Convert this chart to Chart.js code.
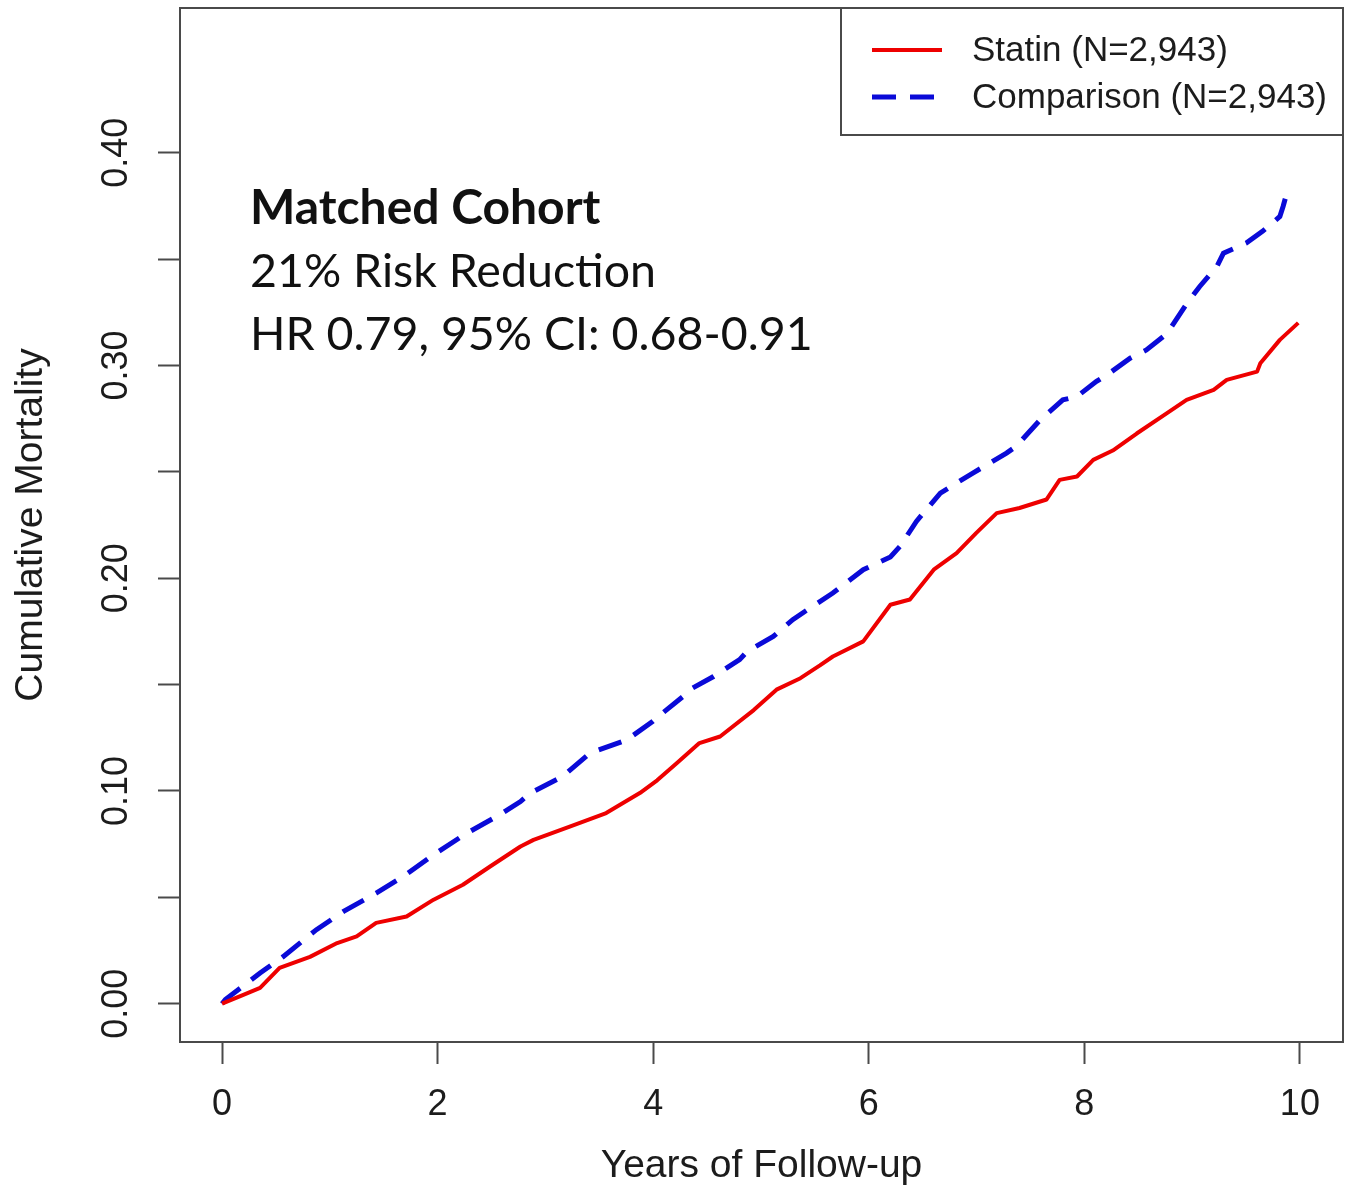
<!DOCTYPE html>
<html><head><meta charset="utf-8">
<script src="https://cdn.jsdelivr.net/npm/chart.js@4/dist/chart.umd.min.js"></script>
<style>html,body{margin:0;padding:0;background:#fff}#wrap{width:1350px;height:1194px}</style>
</head><body><div id="wrap"><canvas id="c" width="1350" height="1194"></canvas></div>
<script>
const statinYears = [0, 0.192, 0.353, 0.534, 0.816, 1.068, 1.249, 1.43, 1.712, 1.963, 2.235, 2.487, 2.769, 2.89, 3.232, 3.564, 3.876, 4.037, 4.218, 4.429, 4.621, 4.933, 5.144, 5.366, 5.547, 5.667, 5.949, 6.201, 6.382, 6.603, 6.815, 6.996, 7.187, 7.399, 7.65, 7.771, 7.932, 8.083, 8.264, 8.486, 8.767, 8.949, 9.2, 9.321, 9.603, 9.633, 9.814, 9.985];
const statinMortality = [0, 0.004, 0.0074, 0.0168, 0.022, 0.0285, 0.0316, 0.038, 0.041, 0.0489, 0.0559, 0.0645, 0.0739, 0.077, 0.0833, 0.0896, 0.099, 0.105, 0.113, 0.1225, 0.1256, 0.138, 0.1476, 0.153, 0.159, 0.1632, 0.1703, 0.1875, 0.19, 0.204, 0.2118, 0.2212, 0.2306, 0.233, 0.237, 0.2462, 0.2478, 0.2556, 0.26, 0.268, 0.2776, 0.2838, 0.2885, 0.2932, 0.2971, 0.301, 0.312, 0.32];
const comparisonYears = [0, 0.031, 0.353, 0.564, 0.876, 1.128, 1.43, 1.682, 1.963, 2.265, 2.577, 2.769, 2.859, 3.161, 3.413, 3.755, 3.997, 4.067, 4.278, 4.339, 4.56, 4.802, 4.872, 5.114, 5.295, 5.456, 5.667, 5.949, 6.201, 6.291, 6.442, 6.664, 6.966, 7.278, 7.368, 7.59, 7.801, 7.932, 8.113, 8.234, 8.425, 8.576, 8.767, 8.949, 9.069, 9.23, 9.291, 9.502, 9.653, 9.814, 9.844, 9.884];
const comparisonMortality = [0, 0.002, 0.0144, 0.022, 0.0348, 0.0434, 0.052, 0.0598, 0.07, 0.08, 0.0888, 0.095, 0.099, 0.1068, 0.1178, 0.124, 0.1327, 0.1358, 0.1444, 0.1476, 0.1538, 0.1617, 0.1656, 0.1726, 0.1805, 0.186, 0.193, 0.204, 0.21, 0.215, 0.2267, 0.24, 0.2494, 0.2588, 0.262, 0.2744, 0.2838, 0.2854, 0.2925, 0.2964, 0.3034, 0.3073, 0.315, 0.329, 0.337, 0.3465, 0.3528, 0.3575, 0.363, 0.37, 0.3747, 0.382];
const xTickValues = [0, 2, 4, 6, 8, 10];
const yTickValues = [0, 0.05, 0.10, 0.15, 0.20, 0.25, 0.30, 0.35, 0.40];
const yLabelValues = [0, 0.10, 0.20, 0.30, 0.40];
const seriesLabels = ['Statin (N=2,943)', 'Comparison (N=2,943)'];
const annotationLines = ['Matched Cohort', '21% Risk Reduction', 'HR 0.79, 95% CI: 0.68-0.91'];
const xTitle = 'Years of Follow-up';
const yTitle = 'Cumulative Mortality';

const AXIS_FONT = "'Liberation Sans', Arial, sans-serif";
const TEXT_COLOR = '#1c1c1c';
const FRAME_COLOR = '#4a4a4a';

const toPoints = (xs, ys) => xs.map((x, i) => ({x: x, y: ys[i]}));

const customDraw = {
  id: 'customDraw',
  afterDraw(chart) {
    const ctx = chart.ctx;
    const a = chart.chartArea;
    const ys = chart.scales.y;
    ctx.save();
    // plot box
    ctx.strokeStyle = FRAME_COLOR;
    ctx.lineWidth = 2;
    ctx.strokeRect(a.left, a.top, a.right - a.left, a.bottom - a.top);
    // rotated y tick labels
    ctx.fillStyle = TEXT_COLOR;
    ctx.font = "36px " + AXIS_FONT;
    ctx.textAlign = 'center';
    ctx.textBaseline = 'alphabetic';
    yLabelValues.forEach(v => {
      const py = ys.getPixelForValue(v);
      ctx.save();
      ctx.translate(127, py);
      ctx.rotate(-Math.PI / 2);
      ctx.fillText(v.toFixed(2), 0, 0);
      ctx.restore();
    });
    // legend
    const lx = 841, ly = a.top;
    ctx.strokeStyle = FRAME_COLOR;
    ctx.lineWidth = 2;
    ctx.strokeRect(lx, ly, a.right - lx, 127);
    chart.data.datasets.forEach((ds, i) => {
      const cy = ly + 42 + i * 47;
      ctx.save();
      ctx.strokeStyle = ds.borderColor;
      ctx.lineWidth = ds.borderWidth;
      ctx.setLineDash(ds.borderDash || []);
      ctx.beginPath();
      ctx.moveTo(872, cy);
      ctx.lineTo(942, cy);
      ctx.stroke();
      ctx.restore();
      ctx.fillStyle = TEXT_COLOR;
      ctx.font = "35px " + AXIS_FONT;
      ctx.textAlign = 'left';
      ctx.textBaseline = 'middle';
      ctx.fillText(ds.label, 972, cy + 1);
    });
    // annotation
    ctx.fillStyle = '#111';
    ctx.textAlign = 'left';
    ctx.textBaseline = 'alphabetic';
    annotationLines.forEach((t, i) => {
      ctx.font = (i === 0 ? 'bold 48px ' : '46.5px ') + "Lato, 'Open Sans', sans-serif";
      ctx.fillText(t, 250, 224 + i * 63);
    });
    ctx.restore();
  }
};

new Chart(document.getElementById('c'), {
  type: 'line',
  data: {
    datasets: [
      {
        label: seriesLabels[0],
        data: toPoints(statinYears, statinMortality),
        borderColor: '#ee0000',
        borderWidth: 4,
        pointRadius: 0,
        tension: 0,
        borderJoinStyle: 'round',
        fill: false
      },
      {
        label: seriesLabels[1],
        data: toPoints(comparisonYears, comparisonMortality),
        borderColor: '#0a0ad8',
        borderWidth: 5,
        borderDash: [24, 14],
        pointRadius: 0,
        tension: 0,
        fill: false
      }
    ]
  },
  options: {
    responsive: false,
    animation: false,
    devicePixelRatio: 1,
    layout: {padding: {left: 0, top: 8, right: 7, bottom: 0}},
    plugins: {legend: {display: false}, tooltip: {enabled: false}},
    scales: {
      x: {
        type: 'linear',
        min: -0.39,
        max: 10.4,
        afterBuildTicks: s => { s.ticks = xTickValues.map(v => ({value: v})); },
        afterFit: s => { s.height = 152; },
        ticks: {
          font: {family: AXIS_FONT, size: 36},
          color: TEXT_COLOR,
          padding: 19,
          maxRotation: 0,
          autoSkip: false,
          callback: v => String(v)
        },
        grid: {drawOnChartArea: false, drawTicks: true, tickLength: 22, tickColor: FRAME_COLOR, tickWidth: 2},
        border: {display: false},
        title: {display: true, text: xTitle, font: {family: AXIS_FONT, size: 39}, color: TEXT_COLOR, padding: {top: 0, bottom: 4}}
      },
      y: {
        type: 'linear',
        min: -0.018,
        max: 0.468,
        afterBuildTicks: s => { s.ticks = yTickValues.map(v => ({value: v})); },
        afterFit: s => { s.width = 180; },
        ticks: {callback: () => '', autoSkip: false, padding: 0},
        grid: {drawOnChartArea: false, drawTicks: true, tickLength: 22, tickColor: FRAME_COLOR, tickWidth: 2},
        border: {display: false},
        title: {display: true, text: yTitle, font: {family: AXIS_FONT, size: 39}, color: TEXT_COLOR, padding: {top: 8, bottom: 0}}
      }
    }
  },
  plugins: [customDraw]
});
</script>
</body></html>
